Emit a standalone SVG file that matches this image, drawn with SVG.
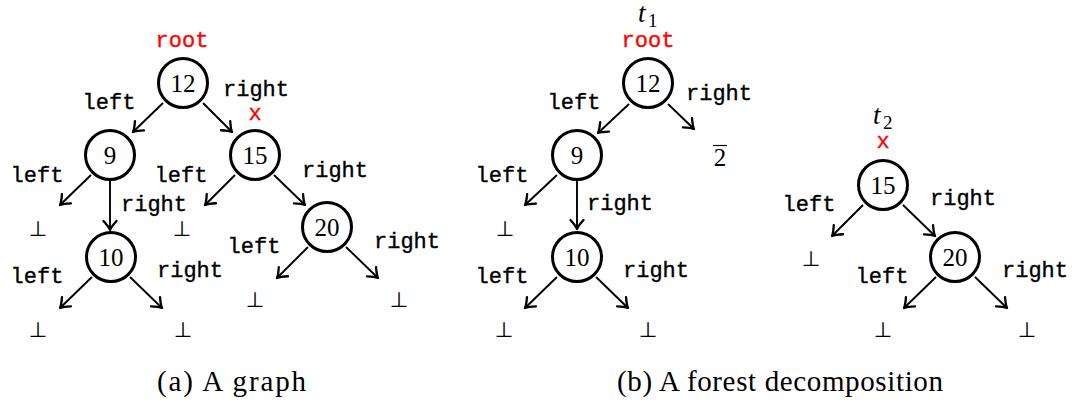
<svg xmlns="http://www.w3.org/2000/svg" width="1072" height="403" viewBox="0 0 1072 403">
<style>
  .node circle { fill: #fff; stroke: #000; stroke-width: 3; }
  .num { font-family: "Liberation Serif", "DejaVu Serif", serif; font-size: 25px; text-anchor: middle; fill: #000; }
  .tt { font-family: "Liberation Mono", "DejaVu Sans Mono", monospace; font-size: 22px; text-anchor: middle; fill: #000; stroke: #000; stroke-width: 0.35; }
  .red { fill: #ff0000; stroke: #ff0000; }
  .bot { font-family: "DejaVu Sans", sans-serif; font-size: 21px; text-anchor: middle; fill: #000; stroke: #000; stroke-width: 0.15; }
  .cap { font-family: "Liberation Serif", "DejaVu Serif", serif; font-size: 29px; fill: #000; }
  .it { font-family: "Liberation Serif", "DejaVu Serif", serif; font-size: 27px; font-style: italic; fill: #000; }
  .sub { font-family: "Liberation Serif", "DejaVu Serif", serif; font-size: 19px; fill: #000; }
  .edge line { stroke: #000; stroke-width: 1.9; fill: none; marker-end: url(#arr); }
</style>
<defs>
  <marker id="arr" viewBox="-12 -8 14 16" markerWidth="14" markerHeight="16" refX="0" refY="0" orient="auto" markerUnits="userSpaceOnUse">
    <path d="M -9 -6.5 Q -3.5 -1.5 0 0 Q -3.5 1.5 -9 6.5" fill="none" stroke="#000" stroke-width="2.3" stroke-linecap="round" stroke-linejoin="round"/>
  </marker>
</defs>
<rect width="1072" height="403" fill="#fff"/>

<!-- connectors -->
<g id="connectors" class="edge">
  <!-- (a) -->
  <line x1="163" y1="103" x2="133" y2="132"/>
  <line x1="203" y1="103" x2="232" y2="132"/>
  <line x1="91" y1="175" x2="60" y2="205"/>
  <line x1="110" y1="181" x2="110" y2="230"/>
  <line x1="235" y1="175" x2="205" y2="205"/>
  <line x1="274" y1="175" x2="305" y2="205"/>
  <line x1="92" y1="277" x2="60" y2="308"/>
  <line x1="130" y1="277" x2="162" y2="308"/>
  <line x1="308" y1="247" x2="277" y2="278"/>
  <line x1="346" y1="247" x2="378" y2="278"/>
  <!-- (b) t1 -->
  <line x1="629" y1="104" x2="598" y2="133"/>
  <line x1="668" y1="104" x2="694" y2="129"/>
  <line x1="557" y1="175" x2="525" y2="205"/>
  <line x1="577" y1="181" x2="577" y2="229"/>
  <line x1="557" y1="277" x2="525" y2="308"/>
  <line x1="596" y1="277" x2="628" y2="308"/>
  <!-- (b) t2 -->
  <line x1="863" y1="205" x2="832" y2="236"/>
  <line x1="903" y1="205" x2="935" y2="236"/>
  <line x1="936" y1="277" x2="904" y2="308"/>
  <line x1="975" y1="277" x2="1007" y2="308"/>
</g>

<!-- edge labels -->
<g id="edge-labels" class="tt">
  <!-- (a) -->
  <text x="109" y="109">left</text>
  <text x="256" y="96">right</text>
  <text x="37" y="182">left</text>
  <text x="154" y="211">right</text>
  <text x="181" y="182">left</text>
  <text x="335" y="177">right</text>
  <text x="37" y="283">left</text>
  <text x="190" y="277">right</text>
  <text x="254" y="253">left</text>
  <text x="407" y="248">right</text>
  <!-- (b) t1 -->
  <text x="574" y="109">left</text>
  <text x="719" y="100">right</text>
  <text x="502" y="182">left</text>
  <text x="620" y="210">right</text>
  <text x="502" y="283">left</text>
  <text x="656" y="277">right</text>
  <!-- (b) t2 -->
  <text x="809" y="211">left</text>
  <text x="963" y="205">right</text>
  <text x="882" y="283">left</text>
  <text x="1035" y="277">right</text>
</g>

<!-- null leaves -->
<g id="nulls" class="bot">
  <text x="38" y="236">⊥</text>
  <text x="182" y="236">⊥</text>
  <text x="255" y="307">⊥</text>
  <text x="399" y="307">⊥</text>
  <text x="38" y="337">⊥</text>
  <text x="183" y="337">⊥</text>
  <text x="505" y="236">⊥</text>
  <text x="504" y="337">⊥</text>
  <text x="648" y="337">⊥</text>
  <text x="811" y="266">⊥</text>
  <text x="883" y="337">⊥</text>
  <text x="1027" y="337">⊥</text>
</g>

<!-- (a) nodes -->
<g id="a-n12" class="node">
  <circle cx="183" cy="83" r="24.5"/>
  <text class="num" x="183" y="92">12</text>
  <text class="tt red" x="182" y="47">root</text>
</g>
<g id="a-n9" class="node">
  <circle cx="110" cy="155" r="24.5"/>
  <text class="num" x="110" y="164">9</text>
</g>
<g id="a-n15" class="node">
  <circle cx="255" cy="155" r="24.5"/>
  <text class="num" x="255" y="164">15</text>
  <text class="tt red" x="255" y="120">x</text>
</g>
<g id="a-n10" class="node">
  <circle cx="111" cy="257" r="24.5"/>
  <text class="num" x="111" y="266">10</text>
</g>
<g id="a-n20" class="node">
  <circle cx="327" cy="227" r="24.5"/>
  <text class="num" x="327" y="236">20</text>
</g>

<!-- (b) t1 nodes -->
<g id="t1-label">
  <text class="it" x="638" y="22">t</text>
  <text class="sub" x="648" y="27">1</text>
</g>
<g id="b-n12" class="node">
  <circle cx="648" cy="83" r="24.5"/>
  <text class="num" x="648" y="92">12</text>
  <text class="tt red" x="648" y="47">root</text>
</g>
<g id="b-cut">
  <text class="num" x="720" y="166">2</text>
  <line x1="713" y1="145.5" x2="727" y2="145.5" stroke="#000" stroke-width="1.2"/>
</g>
<g id="b-n9" class="node">
  <circle cx="577" cy="155" r="24.5"/>
  <text class="num" x="577" y="164">9</text>
</g>
<g id="b-n10" class="node">
  <circle cx="577" cy="257" r="24.5"/>
  <text class="num" x="577" y="266">10</text>
</g>

<!-- (b) t2 nodes -->
<g id="t2-label">
  <text class="it" x="873" y="124">t</text>
  <text class="sub" x="883" y="129">2</text>
</g>
<g id="b-n15" class="node">
  <circle cx="883" cy="185" r="24.5"/>
  <text class="num" x="883" y="194">15</text>
  <text class="tt red" x="883" y="148">x</text>
</g>
<g id="b-n20" class="node">
  <circle cx="955" cy="257" r="24.5"/>
  <text class="num" x="955" y="266">20</text>
</g>

<!-- captions -->
<g id="captions">
  <text class="cap" x="157" y="391" textLength="149" lengthAdjust="spacing">(a) A graph</text>
  <text class="cap" x="617" y="391" textLength="326" lengthAdjust="spacing">(b) A forest decomposition</text>
</g>
</svg>
